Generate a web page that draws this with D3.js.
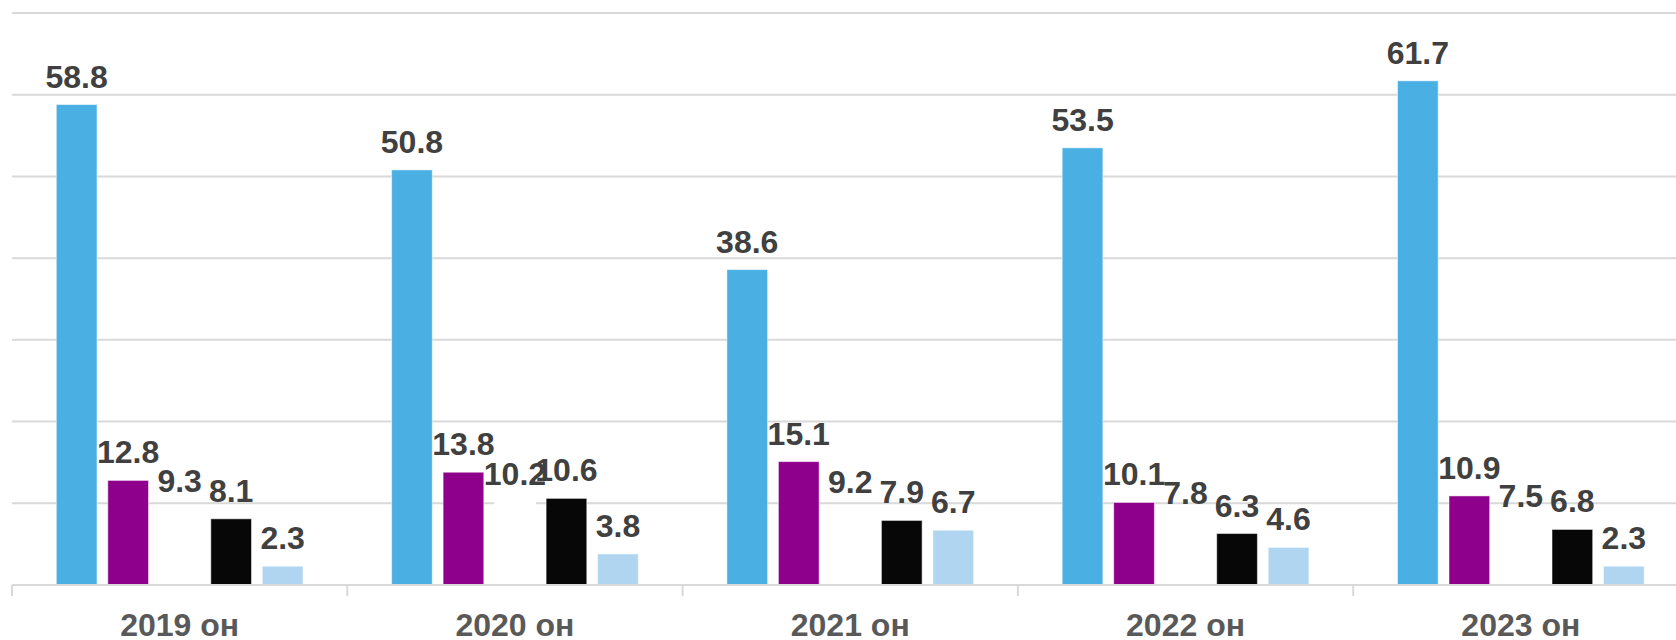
<!DOCTYPE html>
<html>
<head>
<meta charset="utf-8">
<script src="https://cdn.jsdelivr.net/npm/d3@7"></script>
<style>
  html, body { margin: 0; padding: 0; background: #fff; overflow: hidden; }
  svg { display: block; font-family: "Liberation Sans", Arial, sans-serif; }
</style>
</head>
<body>
<svg id="chart" width="1676" height="640"></svg>
<script>
// categories and series values
const years = ['2019 он', '2020 он', '2021 он', '2022 он', '2023 он'];
const seriesNames = ['s1', 's2', 's3', 's4', 's5'];
const s1 = [58.8, 50.8, 38.6, 53.5, 61.7];
const s2 = [12.8, 13.8, 15.1, 10.1, 10.9];
const s3 = [9.3, 10.2, 9.2, 7.8, 7.5];
const s4 = [8.1, 10.6, 7.9, 6.3, 6.8];
const s5 = [2.3, 3.8, 6.7, 4.6, 2.3];
const gridTicks = [10, 20, 30, 40, 50, 60, 70];

const colors = ['#4ab0e3', '#8e008b', '#ffffff', '#070707', '#b0d5f0'];
const allSeries = [s1, s2, s3, s4, s5];

const svg = d3.select('#chart');
const left = 12;
const baseY = 585;
const groupW = 335.3;

const x = d3.scaleBand().domain(years).range([left, left + groupW * years.length]);
const y = d3.scaleLinear().domain([0, 70]).range([baseY, 13]);
const xSub = d3.scaleBand()
  .domain(seriesNames)
  .range([44.3, groupW - 44.3])
  .paddingInner(0.21)
  .paddingOuter(0);

// gridlines
svg.append('g')
  .selectAll('line')
  .data(gridTicks)
  .enter()
  .append('line')
  .attr('x1', left)
  .attr('x2', 1676)
  .attr('y1', (d) => y(d))
  .attr('y2', (d) => y(d))
  .attr('stroke', '#d9d9d9')
  .attr('stroke-width', 2);

// bars
const groups = svg.selectAll('g.bar-group')
  .data(years)
  .enter()
  .append('g')
  .attr('class', 'bar-group')
  .attr('transform', (d) => 'translate(' + x(d) + ',0)');

groups.each(function (year, gi) {
  const g = d3.select(this);
  seriesNames.forEach((name, si) => {
    const v = allSeries[si][gi];
    g.append('rect')
      .attr('x', xSub(name))
      .attr('y', y(v))
      .attr('width', xSub.bandwidth())
      .attr('height', baseY - y(v))
      .attr('fill', colors[si])
      .attr('stroke', si === 2 ? '#ffffff' : 'rgba(255,255,255,0.5)')
      .attr('stroke-width', 1);
  });
});

// x axis line and ticks
svg.append('line')
  .attr('x1', left)
  .attr('x2', 1676)
  .attr('y1', baseY)
  .attr('y2', baseY)
  .attr('stroke', '#d9d9d9')
  .attr('stroke-width', 2);

svg.append('g')
  .selectAll('line')
  .data(years)
  .enter()
  .append('line')
  .attr('x1', (d) => x(d))
  .attr('x2', (d) => x(d))
  .attr('y1', baseY)
  .attr('y2', baseY + 11)
  .attr('stroke', '#d9d9d9')
  .attr('stroke-width', 2);

// value labels
groups.each(function (year, gi) {
  const g = d3.select(this);
  seriesNames.forEach((name, si) => {
    const v = allSeries[si][gi];
    g.append('text')
      .attr('x', xSub(name) + xSub.bandwidth() / 2)
      .attr('y', y(v) - 17)
      .attr('text-anchor', 'middle')
      .attr('font-size', 32)
      .attr('font-weight', 'bold')
      .attr('fill', '#404040')
      .text(v.toFixed(1));
  });
});

// category labels
svg.append('g')
  .selectAll('text')
  .data(years)
  .enter()
  .append('text')
  .attr('x', (d) => x(d) + x.bandwidth() / 2)
  .attr('y', 636)
  .attr('text-anchor', 'middle')
  .attr('font-size', 32)
  .attr('font-weight', 'bold')
  .attr('fill', '#595959')
  .text((d) => d);
</script>
</body>
</html>
